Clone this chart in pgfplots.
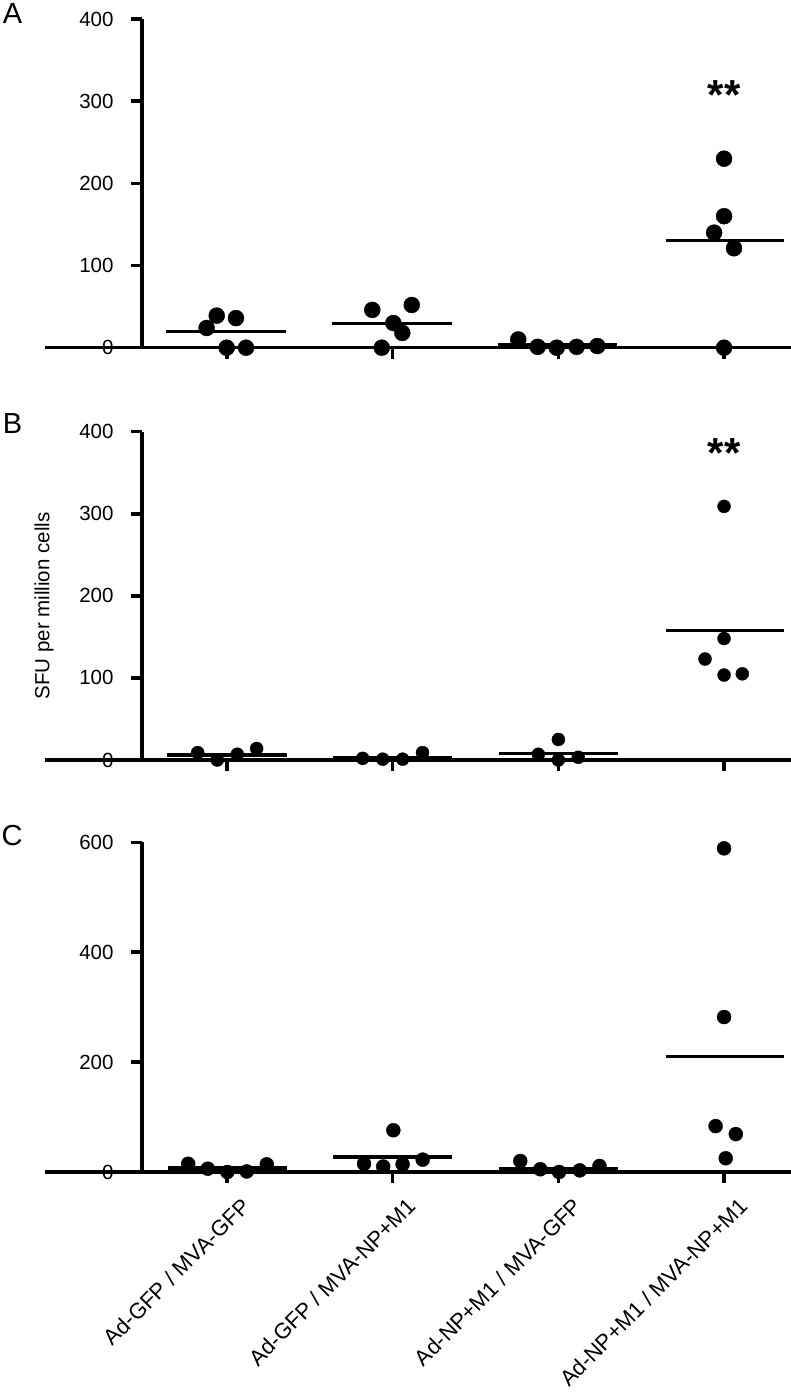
\documentclass[border=0pt]{standalone}
\usepackage{fontspec}
\setmainfont{Liberation Sans}
\usepackage{pgfplots}
\pgfplotsset{compat=1.18}
\begin{document}
\begin{tikzpicture}[x=1pt,y=1pt]
\path[use as bounding box] (0,0) rectangle (791,1393);
\pgfplotsset{
  panel/.style={
    scale only axis, width=649pt, height=#1,
    xmin=0.487, xmax=4.404, ymin=0,
    clip=false,
    axis x line=bottom, axis y line=left,
    axis line style={-, line width=3.5pt, black},
    every outer x axis line/.append style={-},
    every outer y axis line/.append style={-},
    tick align=outside,
    major tick length=11pt,
    tick style={line width=3.5pt, black},
    xtick={1,2,3,4},
    /pgf/number format/assume math mode=true,
    ticklabel style={font=\fontsize{20.5}{24}\selectfont},
    yticklabel style={xshift=-14pt},
    anchor=south west,
  },
  dots/.style={only marks, mark=*, mark size=#1, mark options={fill=black, draw=black}},
  mean/.style={no marks, line width=3.5pt, black},
}
% ---------------- Panel A ----------------
\begin{axis}[panel=328.7pt, at={(142pt,1045.3pt)}, ymax=400, ytick={0,100,200,300,400}, xticklabels={}]
\addplot[dots=8pt] coordinates {(0.938,39) (1.054,36) (0.877,24) (0.998,0) (1.115,0)};
\addplot[dots=8pt] coordinates {(1.877,46) (2.115,52) (2.004,30) (2.058,18) (1.934,0)};
\addplot[dots=8pt] coordinates {(2.758,10) (2.875,1) (2.99,0) (3.11,1) (3.235,2)};
\addplot[dots=8pt] coordinates {(4.0,230) (4.0,160) (3.94,140) (4.06,121) (4.0,0)};
\addplot[mean] coordinates {(0.632,19.8) (1.356,19.8)};
\addplot[mean] coordinates {(1.636,29.2) (2.356,29.2)};
\addplot[mean] coordinates {(2.635,3.3) (3.354,3.3)};
\addplot[mean] coordinates {(3.65,130.3) (4.36,130.3)};
\node[font=\bfseries\fontsize{42}{42}\selectfont] at (axis cs:4.0,308) {**};
\draw[line width=3.5pt] (axis cs:0.487,0) -- ++(-16pt,0);
\end{axis}
% ---------------- Panel B ----------------
\begin{axis}[panel=328.3pt, at={(142pt,633pt)}, ymax=400, ytick={0,100,200,300,400}, xticklabels={}]
\addplot[dots=6.5pt] coordinates {(0.823,9) (0.941,0) (1.062,7) (1.179,14)};
\addplot[dots=6.5pt] coordinates {(1.819,2) (1.94,1) (2.06,1) (2.18,9)};
\addplot[dots=6.5pt] coordinates {(2.879,7) (3.0,25) (3.0,0) (3.12,3.3)};
\addplot[dots=6.5pt] coordinates {(4.0,309) (4.0,148) (3.885,123) (4.0,103.5) (4.11,105)};
\addplot[mean] coordinates {(0.64,6.1) (1.36,6.1)};
\addplot[mean] coordinates {(1.64,2.8) (2.36,2.8)};
\addplot[mean] coordinates {(2.64,8.1) (3.36,8.1)};
\addplot[mean] coordinates {(3.65,158) (4.36,158)};
\node[font=\bfseries\fontsize{42}{42}\selectfont] at (axis cs:4.0,373.5) {**};
\draw[line width=3.5pt] (axis cs:0.487,0) -- ++(-16pt,0);
\end{axis}
% ---------------- Panel C ----------------
\begin{axis}[panel=329.7pt, at={(142pt,221pt)}, ymax=600, ytick={0,200,400,600},
  xticklabels={Ad-GFP / MVA-GFP, Ad-GFP / MVA-NP+M1, Ad-NP+M1 / MVA-GFP, Ad-NP+M1 / MVA-NP+M1},
  xticklabel style={rotate=45, anchor=north east, inner sep=0pt, xshift=0pt, yshift=-19pt,
    font=\fontsize{22}{25}\selectfont}]
\addplot[dots=7pt] coordinates {(0.766,15) (0.884,6) (1.002,0) (1.119,1) (1.24,14)};
\addplot[dots=7pt] coordinates {(2.004,76) (1.827,15) (1.943,10) (2.06,14) (2.181,22.5)};
\addplot[dots=7pt] coordinates {(2.77,20) (2.891,5) (3.004,0) (3.129,3) (3.248,11)};
\addplot[dots=7pt] coordinates {(4.0,589) (4.0,282) (3.949,83.5) (4.071,69) (4.01,25)};
\addplot[mean] coordinates {(0.646,7) (1.36,7)};
\addplot[mean] coordinates {(1.64,27.2) (2.36,27.2)};
\addplot[mean] coordinates {(2.64,6.7) (3.36,6.7)};
\addplot[mean] coordinates {(3.65,210) (4.36,210)};
\draw[line width=3.5pt] (axis cs:0.487,0) -- ++(-16pt,0);
\end{axis}
% panel letters and y label
\node[font=\fontsize{29}{30}\selectfont] at (12.5,1379.5) {A};
\node[font=\fontsize{29}{30}\selectfont] at (12.5,969) {B};
\node[font=\fontsize{29}{30}\selectfont] at (12,557) {C};
\node[rotate=90, font=\fontsize{20.5}{24}\selectfont] at (44,787) {SFU per million cells};
\end{tikzpicture}
\end{document}
